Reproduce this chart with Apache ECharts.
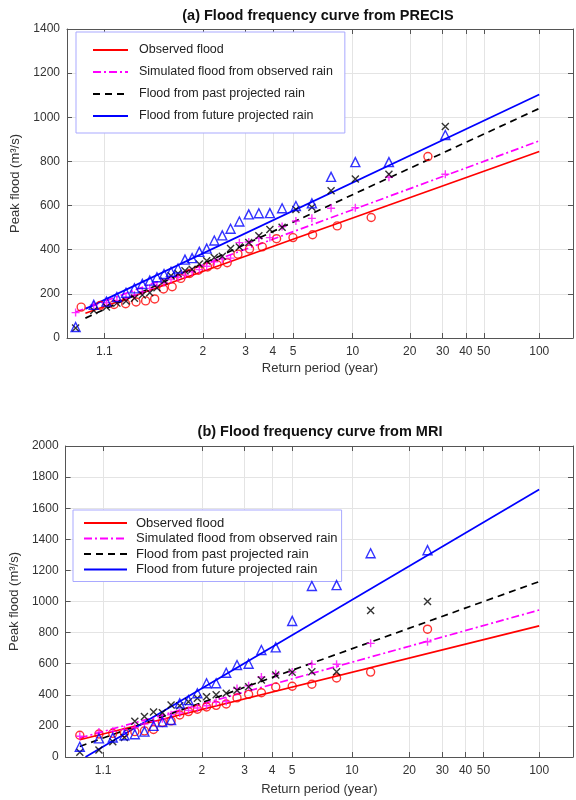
<!DOCTYPE html>
<html>
<head>
<meta charset="utf-8">
<script src="https://cdn.jsdelivr.net/npm/echarts@6/dist/echarts.min.js"></script>
<style>
html,body{margin:0;padding:0;background:#fff;}
#chart{width:576px;height:800px;}
</style>
</head>
<body>
<div id="chart"></div>
<script>
// ---------- data ----------
const tickPeriods = [1.1, 2, 3, 4, 5, 10, 20, 30, 40, 50, 100];
const tickLabels = ['1.1', '2', '3', '4', '5', '10', '20', '30', '40', '50', '100'];

// plotting-position return periods (years), largest first
const periods24 = [25, 12.5, 8.333, 6.25, 5, 4.167, 3.571, 3.125, 2.778, 2.5, 2.273, 2.083, 1.923, 1.786, 1.667, 1.563, 1.471, 1.389, 1.316, 1.25, 1.19, 1.136, 1.087, 1.042];
const periods30 = [31, 15.5, 10.333, 7.75, 6.2, 5.167, 4.429, 3.875, 3.444, 3.1, 2.818, 2.583, 2.385, 2.214, 2.067, 1.938, 1.824, 1.722, 1.632, 1.55, 1.476, 1.409, 1.348, 1.292, 1.24, 1.192, 1.148, 1.107, 1.069, 1.033];

// observed flood (same in both panels)
const observedFlood = [822, 546, 508, 468, 455, 450, 413, 403, 380, 341, 332, 322, 307, 292, 270, 232, 222, 177, 168, 163, 155, 152, 148, 140];

// (a) PRECIS
const simA = [742, 728, 590, 588, 542, 530, 505, 455, 452, 435, 432, 362, 358, 345, 325, 310, 300, 285, 275, 265, 250, 238, 225, 210, 195, 180, 170, 160, 150, 115];
const pastA = [958, 742, 720, 667, 592, 582, 502, 492, 463, 433, 412, 405, 370, 365, 350, 335, 312, 305, 292, 282, 258, 228, 205, 195, 180, 168, 158, 140, 125, 45];
const futureA = [920, 797, 797, 730, 610, 598, 588, 566, 565, 560, 528, 495, 465, 442, 405, 390, 362, 355, 315, 300, 290, 275, 260, 245, 225, 205, 185, 165, 150, 50];

// (b) MRI
const simB = [741, 731, 596, 596, 546, 535, 514, 458, 441, 357, 351, 330, 315, 300, 283, 272, 246, 229, 212, 190, 176, 165, 160, 133];
const pastB = [1000, 942, 549, 549, 545, 527, 495, 452, 430, 410, 400, 388, 378, 355, 330, 335, 285, 290, 260, 230, 125, 98, 45, 30];
const futureB = [1330, 1310, 1105, 1100, 875, 705, 688, 600, 592, 542, 474, 474, 410, 366, 345, 238, 225, 200, 163, 146, 140, 125, 120, 66];

// fitted lines: [start period, end period] and [start flood, end flood]
const fitPeriodsA = [1.05, 100];
const fitPeriodsSimA = [1.033, 100];
const fitObsA = [112, 845];
const fitSimA = [118, 893];
const fitPastA = [90, 1040];
const fitFutureA = [132, 1103];

const fitPeriodsB = [1.042, 100];
const fitPeriodsFutureB = [1.053, 100];
const fitObsB = [111, 843];
const fitSimB = [122, 945];
const fitPastB = [68, 1128];
const fitFutureB = [0, 1720];

const seriesNames = ['Observed flood', 'Simulated flood from observed rain', 'Flood from past projected rain', 'Flood from future projected rain'];

// ---------- helpers ----------
const gumbel = T => -Math.log(-Math.log(1 - 1 / T));
const pts = (periods, vals) => periods.map((t, i) => [gumbel(t), vals[i]]);
const tickVals = tickPeriods.map(gumbel);
const XMIN = -1.345, XMAX = 5.025;
const FONT = 'Liberation Sans, Arial, sans-serif';
const LBL = '#333333';
const AXC = '#555555';
const GRIDC = '#e4e4e4';

const COL = { obs: '#ff0000', sim: '#ff00ff', past: '#000000', fut: '#0000ff' };
const PLUS = 'path://M5,0L5,10M0,5L10,5';
const CROSS = 'path://M0,0L10,10M0,10L10,0';

function xFmt(v) {
  for (let i = 0; i < tickVals.length; i++) if (Math.abs(tickVals[i] - v) < 1e-6) return tickLabels[i];
  return '';
}

function xAxes(gi, gap) {
  return [{
    type: 'value', gridIndex: gi, position: 'bottom', min: XMIN, max: XMAX,
    name: 'Return period (year)', nameLocation: 'middle', nameGap: gap,
    nameTextStyle: { fontFamily: FONT, fontSize: 13, color: LBL },
    axisLine: { show: true, onZero: false, lineStyle: { color: AXC, width: 1 } },
    axisTick: { show: true, inside: true, length: 5, customValues: tickVals, lineStyle: { color: AXC } },
    axisLabel: { customValues: tickVals, formatter: xFmt, fontFamily: FONT, fontSize: 12, color: LBL, margin: 8 },
    splitLine: { show: true, lineStyle: { color: GRIDC, width: 1 } }
  }, {
    type: 'value', gridIndex: gi, position: 'top', min: XMIN, max: XMAX,
    axisLine: { show: true, onZero: false, lineStyle: { color: AXC, width: 1 } },
    axisTick: { show: true, inside: true, length: 5, customValues: tickVals, lineStyle: { color: AXC } },
    axisLabel: { show: false },
    splitLine: { show: false }
  }];
}

function yAxes(gi, max, gap) {
  return [{
    type: 'value', gridIndex: gi, position: 'left', min: 0, max: max, interval: 200,
    name: 'Peak flood (m³/s)', nameLocation: 'middle', nameGap: gap,
    nameTextStyle: { fontFamily: FONT, fontSize: 13, color: LBL },
    axisLine: { show: true, onZero: false, lineStyle: { color: AXC, width: 1 } },
    axisTick: { show: true, inside: true, length: 5, lineStyle: { color: AXC } },
    axisLabel: { fontFamily: FONT, fontSize: 12, color: LBL, margin: 7, formatter: v => String(v) },
    splitLine: { show: true, lineStyle: { color: GRIDC, width: 1 } }
  }, {
    type: 'value', gridIndex: gi, position: 'right', min: 0, max: max, interval: 200,
    axisLine: { show: true, onZero: false, lineStyle: { color: AXC, width: 1 } },
    axisTick: { show: true, inside: true, length: 5, lineStyle: { color: AXC } },
    axisLabel: { show: false },
    splitLine: { show: false }
  }];
}

function lineSeries(name, xi, yi, data, color, type) {
  return {
    name: name, type: 'line', xAxisIndex: xi, yAxisIndex: yi, data: data,
    symbol: 'none', color: color, z: 3, silent: true,
    lineStyle: { color: color, width: 1.7, type: type }
  };
}
function scatterSeries(id, xi, yi, data, color, symbol, size) {
  return {
    name: id, type: 'scatter', xAxisIndex: xi, yAxisIndex: yi, data: data,
    symbol: symbol, symbolSize: size, z: 4, silent: true,
    itemStyle: { color: 'rgba(0,0,0,0)', borderColor: color, borderWidth: 1.4 }
  };
}

function panelSeries(xi, yi, d) {
  return [
    scatterSeries('pts-obs-' + xi, xi, yi, pts(d.pObs, d.obs), COL.obs, 'circle', 8),
    scatterSeries('pts-sim-' + xi, xi, yi, pts(d.pSim, d.sim), COL.sim, PLUS, 8),
    scatterSeries('pts-past-' + xi, xi, yi, pts(d.pPast, d.past), COL.past, CROSS, 7),
    scatterSeries('pts-fut-' + xi, xi, yi, pts(d.pFut, d.fut), COL.fut, 'triangle', 9),
    lineSeries(seriesNames[0], xi, yi, pts(d.fpObs, d.fObs), COL.obs, 'solid'),
    lineSeries(seriesNames[1], xi, yi, pts(d.fpSim, d.fSim), COL.sim, [8, 3, 2, 3]),
    lineSeries(seriesNames[2], xi, yi, pts(d.fpPast, d.fPast), COL.past, [7, 5]),
    lineSeries(seriesNames[3], xi, yi, pts(d.fpFut, d.fFut), COL.fut, 'solid')
  ];
}

const series = [].concat(
  panelSeries(0, 0, {
    pObs: periods24, obs: observedFlood, pSim: periods30, sim: simA, pPast: periods30, past: pastA, pFut: periods30, fut: futureA,
    fpObs: fitPeriodsA, fObs: fitObsA, fpSim: fitPeriodsSimA, fSim: fitSimA, fpPast: fitPeriodsA, fPast: fitPastA, fpFut: fitPeriodsA, fFut: fitFutureA
  }),
  panelSeries(2, 2, {
    pObs: periods24, obs: observedFlood, pSim: periods24, sim: simB, pPast: periods24, past: pastB, pFut: periods24, fut: futureB,
    fpObs: fitPeriodsB, fObs: fitObsB, fpSim: fitPeriodsB, fSim: fitSimB, fpPast: fitPeriodsB, fPast: fitPastB, fpFut: fitPeriodsFutureB, fFut: fitFutureB
  })
);

const chart = echarts.init(document.getElementById('chart'), null, { renderer: 'canvas' });
chart.setOption({
  animation: false,
  backgroundColor: '#ffffff',
  graphic: [
    { type: 'text', x: 318, y: 16, style: { text: '(a) Flood frequency curve from PRECIS', x: 0, y: 0, textAlign: 'center', textVerticalAlign: 'middle', font: 'bold 14.5px ' + FONT, fill: '#111' } },
    { type: 'text', x: 320, y: 432, style: { text: '(b) Flood frequency curve from MRI', x: 0, y: 0, textAlign: 'center', textVerticalAlign: 'middle', font: 'bold 14.5px ' + FONT, fill: '#111' } }
  ],
  grid: [
    { left: 67, top: 29, width: 506, height: 309, containLabel: false },
    { left: 62, top: 446, width: 511, height: 311, containLabel: false }
  ],
  xAxis: [].concat(xAxes(0, 24), xAxes(1, 26)),
  yAxis: [].concat(yAxes(0, 1400, 38), yAxes(1, 2000, 39)),
  legend: [{
    data: seriesNames, orient: 'vertical', left: 76, top: 32,
    itemWidth: 35, itemHeight: 10, itemGap: 8,
    padding: [11, 12, 10, 16],
    borderColor: '#a9a9ff', borderWidth: 1, backgroundColor: '#fff',
    itemStyle: { opacity: 0 },
    textStyle: { fontFamily: FONT, fontSize: 12.5, color: '#222', lineHeight: 14, padding: [0, 0, 0, 6] },
    selectedMode: false
  }, {
    data: seriesNames, orient: 'vertical', left: 73, top: 510,
    itemWidth: 43, itemHeight: 10, itemGap: 1.5,
    padding: [6, 4, 5, 10],
    borderColor: '#a9a9ff', borderWidth: 1, backgroundColor: '#fff',
    itemStyle: { opacity: 0 },
    textStyle: { fontFamily: FONT, fontSize: 13, color: '#222', lineHeight: 14, padding: [0, 0, 0, 4] },
    selectedMode: false
  }],
  series: series
});
</script>
</body>
</html>
